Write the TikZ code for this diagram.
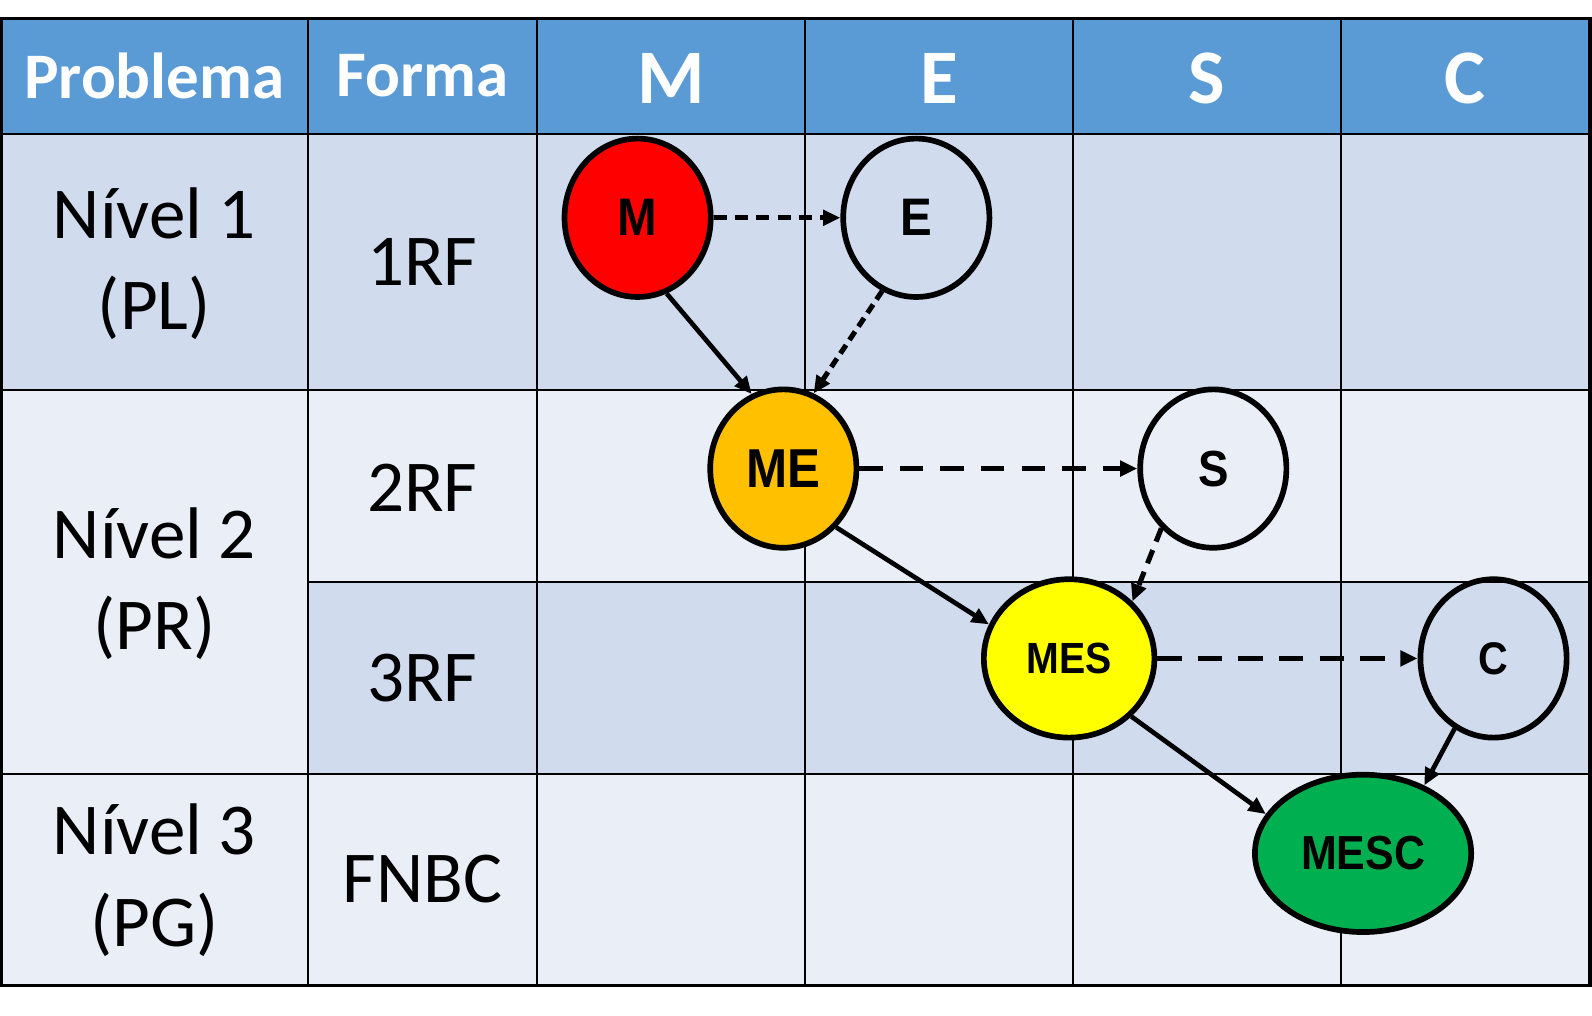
\documentclass[tikz,border=0pt]{standalone}
\usepackage{fontspec}
\setmainfont{Carlito}
\newfontfamily\arialfont[FakeStretch=0.9]{Liberation Sans}
\usetikzlibrary{shapes.geometric,arrows.meta}
\definecolor{hdrblue}{HTML}{5B9BD5}
\definecolor{rowdark}{HTML}{D0DBEE}
\definecolor{rowlight}{HTML}{E9EEF7}
\definecolor{nred}{HTML}{FF0000}
\definecolor{norange}{HTML}{FFC000}
\definecolor{nyellow}{HTML}{FFFF00}
\definecolor{ngreen}{HTML}{00B050}
\tikzset{
  hdrtext/.style={text=white,font=\bfseries\fontsize{32}{38}\selectfont,inner sep=0pt},
  hdrbig/.style={text=white,font=\bfseries\fontsize{38}{44}\selectfont,inner sep=0pt},
  celltext/.style={text=black,font=\fontsize{36}{45}\selectfont,align=center,inner sep=0pt},
  grid/.style={black,line width=1pt},
  ell/.style={ellipse,draw=black,line width=2.8pt,inner sep=0pt,minimum width=72pt,minimum height=78pt},
  solidarr/.style={line width=2.3pt,-{Triangle[length=8.5pt,width=7.5pt]}},
  dasharr/.style={line width=2.5pt,-{Triangle[length=8.5pt,width=7.5pt]}},
}
\begin{document}
\begin{tikzpicture}[x=0.5pt,y=-0.5pt]
\useasboundingbox (0,0) rectangle (1568,1000);
% backgrounds
\fill[hdrblue] (1,18) rectangle (1566,132);
\fill[rowdark] (1,132) rectangle (1566,384);
\fill[rowlight] (1,384) rectangle (303,762);
\fill[rowlight] (303,384) rectangle (1566,573);
\fill[rowdark] (303,573) rectangle (1566,762);
\fill[rowlight] (1,762) rectangle (1566,971);
% grid
\foreach \xx in {303,529,793,1057,1321} \draw[grid] (\xx,18) -- (\xx,971);
\foreach \yy in {132,384,762} \draw[grid] (1,\yy) -- (1566,\yy);
\draw[grid] (303,573) -- (1566,573);
\draw[black,line width=1.5pt] (1,18) rectangle (1566,971);
% header
\node[hdrtext] (hP) at (152,75) {Problema};
\node[hdrtext] (hF) at (416,75) {Forma};
\node[hdrbig] (hM) at (661,77) {M};
\node[hdrbig] (hE) at (925,77) {E};
\node[hdrbig] (hS) at (1189,77) {S};
\node[hdrbig] (hC) at (1443,77) {C};
% body text
\node[celltext] (n1) at (152,260) {Nível 1\\(PL)};
\node[celltext] (n2) at (152,575) {Nível 2\\(PR)};
\node[celltext] (n3) at (152,867) {Nível 3\\(PG)};
\node[celltext] (f1) at (416,258) {1RF};
\node[celltext] (f2) at (416,480) {2RF};
\node[celltext] (f3) at (416,668) {3RF};
\node[celltext] (f4) at (416,866) {FNBC};
% nodes
\node[ell,fill=nred,font=\arialfont\bfseries\fontsize{26}{30}\selectfont] (M) at (628,214.5) {M};
\node[ell,font=\arialfont\bfseries\fontsize{26}{30}\selectfont] (E) at (902.5,214.5) {E};
\node[ell,fill=norange,font=\arialfont\bfseries\fontsize{27}{31}\selectfont] (ME) at (771.5,461.5) {ME};
\node[ell,font=\arialfont\bfseries\fontsize{25}{29}\selectfont] (S) at (1195,461.5) {S};
\node[ell,fill=nyellow,minimum width=84pt,font=\arialfont\bfseries\fontsize{21.5}{25}\selectfont] (MES) at (1053,648.5) {MES};
\node[ell,font=\arialfont\bfseries\fontsize{22.5}{26}\selectfont] (C) at (1471,648.5) {C};
\node[ell,fill=ngreen,minimum width=106.5pt,minimum height=77.5pt,font=\arialfont\bfseries\fontsize{23.5}{27}\selectfont] (MESC) at (1342.5,840.5) {MESC};
% connectors
\draw[dasharr,dash pattern=on 6.5pt off 4pt] (M.east) -- (E.west);
\draw[solidarr] (M.-69) -- (ME.113);
\draw[dasharr,dash pattern=on 5pt off 3pt] (E.-115) -- (ME.68);
\draw[dasharr,dash pattern=on 11.5pt off 8.5pt] (ME.east) -- (S.west);
\draw[solidarr] (ME.-48) -- (MES.157);
\draw[dasharr,dash pattern=on 7pt off 4.5pt] (S.-131) -- (MES.42);
\draw[dasharr,dash pattern=on 12pt off 8pt] (MES.east) -- (C.west);
\draw[solidarr] (MES.-43) -- (MESC.158);
\draw[solidarr] (C.-119) -- (MESC.48);
\end{tikzpicture}
\end{document}
